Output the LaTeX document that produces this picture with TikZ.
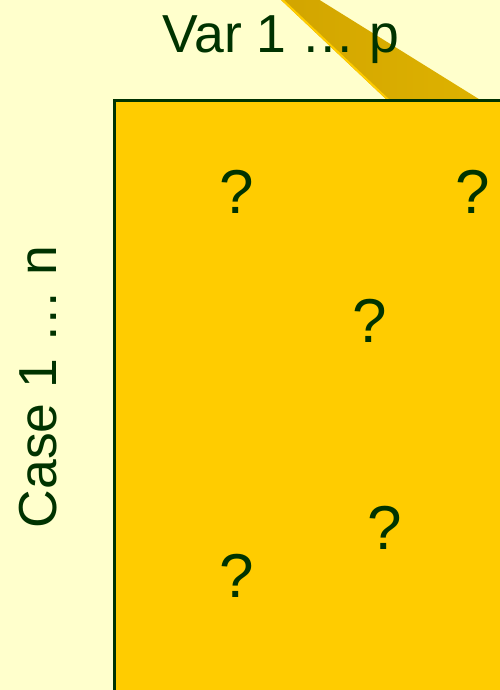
\documentclass[tikz,border=0pt]{standalone}
\usepackage{fontspec}
\setmainfont{Liberation Sans}
\definecolor{bg}{HTML}{FFFFCC}
\definecolor{gold}{HTML}{FFCC00}
\definecolor{bandL}{HTML}{D2A500}
\definecolor{bandR}{HTML}{DEB200}
\definecolor{dkgreen}{HTML}{003300}
\begin{document}
\begin{tikzpicture}[x=1pt,y=-1pt,
  lbl/.style={text=dkgreen,inner sep=0pt,anchor=base,font=\fontsize{53.5}{60}\selectfont},
  qm/.style={text=dkgreen,inner sep=0pt,anchor=base,font=\fontsize{62}{70}\selectfont}]
\useasboundingbox (0,0) rectangle (500,690);
\fill[bg] (0,0) rectangle (500,690);
% band (side face)
\shade[left color=bandL,right color=bandR] (280,-1) -- (318,-1) -- (482,101) -- (388,101) -- cycle;
\draw[gold,line width=2pt] (281.5,-1) -- (389.5,101);
% matrix
\draw[fill=gold,draw=dkgreen,line width=3pt] (114.5,100.5) rectangle (520,710);
\node[lbl] (var) at (281,53) {Var 1 … p};
\node[lbl,rotate=90] (case) at (56,387) {Case 1 … n};
\node[qm] (q1) at (237,213) {?};
\node[qm] (q2) at (473,213) {?};
\node[qm] (q3) at (370,342) {?};
\node[qm] (q4) at (385,549) {?};
\node[qm] (q5) at (237,597) {?};
\end{tikzpicture}
\end{document}
